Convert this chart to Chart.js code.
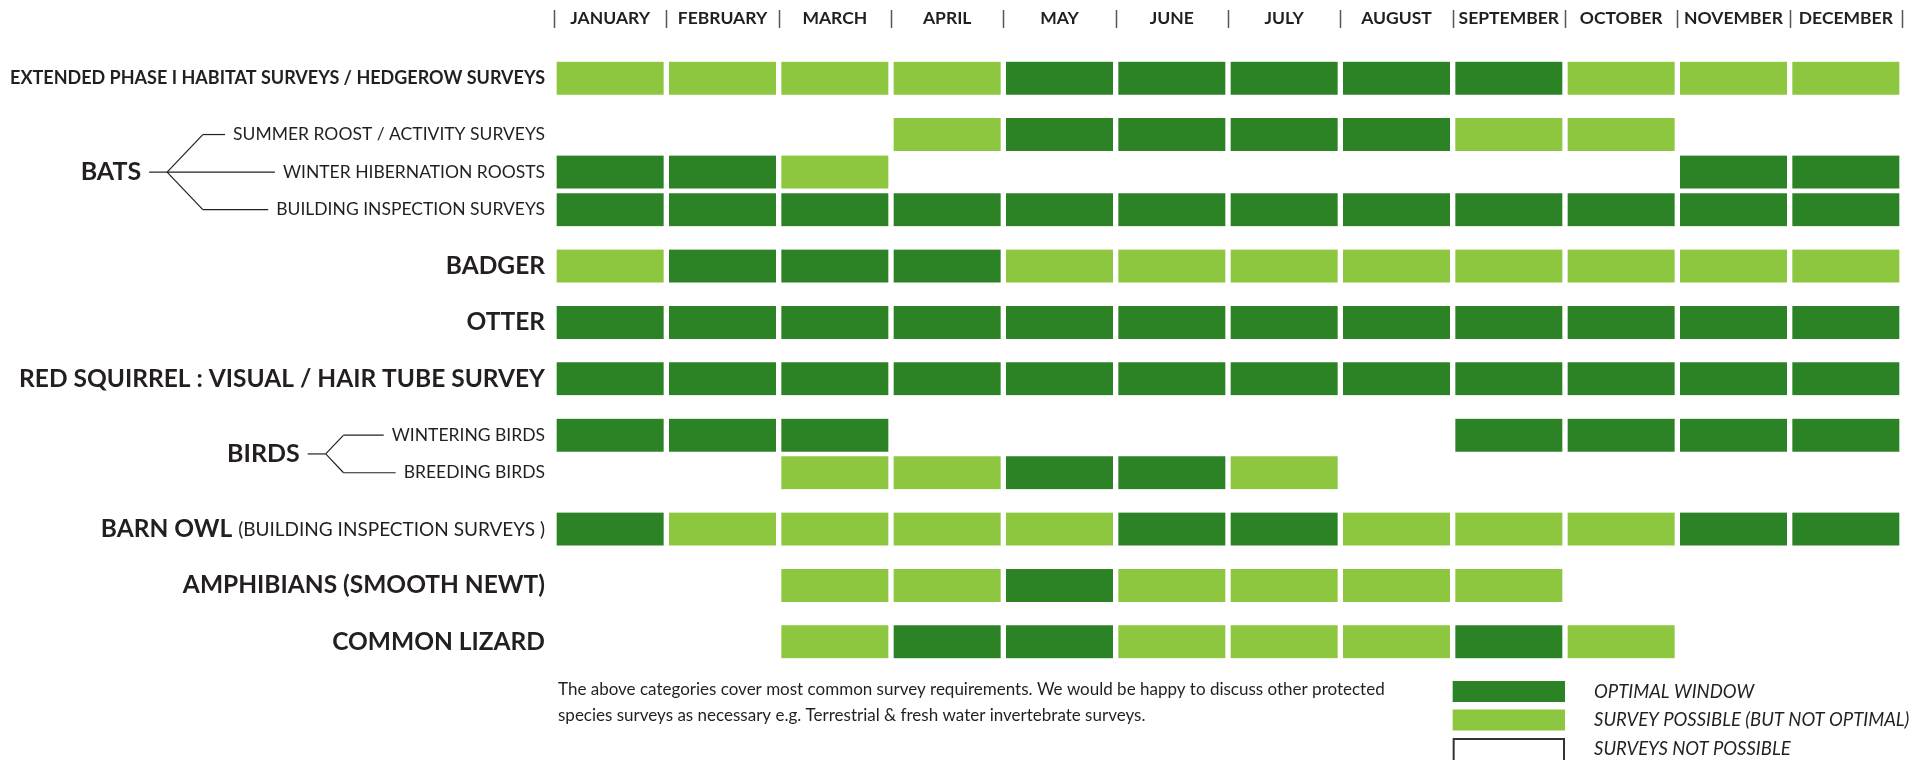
<!DOCTYPE html>
<html lang="en">
<head>
<meta charset="utf-8">
<title>Survey calendar</title>
<script src="https://cdn.jsdelivr.net/npm/chart.js"></script>
<style>
    html, body { margin: 0; padding: 0; background: #fff; }
    #contenedor { width: 1919px; height: 760px; }
</style>
</head>
<body>
<div id="contenedor"><canvas id="graficoCalendario" width="1919" height="760"></canvas></div>
<script>
// Meses (cabecera)
const meses = ['JANUARY', 'FEBRUARY', 'MARCH', 'APRIL', 'MAY', 'JUNE', 'JULY',
    'AUGUST', 'SEPTEMBER', 'OCTOBER', 'NOVEMBER', 'DECEMBER'];

// Estado por mes: 2 = ventana óptima, 1 = posible, 0 = no posible
const extendedPhase    = [1, 1, 1, 1, 2, 2, 2, 2, 2, 1, 1, 1];
const batsSummerRoost  = [0, 0, 0, 1, 2, 2, 2, 2, 1, 1, 0, 0];
const batsWinterRoosts = [2, 2, 1, 0, 0, 0, 0, 0, 0, 0, 2, 2];
const batsBuilding     = [2, 2, 2, 2, 2, 2, 2, 2, 2, 2, 2, 2];
const badger           = [1, 2, 2, 2, 1, 1, 1, 1, 1, 1, 1, 1];
const otter            = [2, 2, 2, 2, 2, 2, 2, 2, 2, 2, 2, 2];
const redSquirrel      = [2, 2, 2, 2, 2, 2, 2, 2, 2, 2, 2, 2];
const birdsWintering   = [2, 2, 2, 0, 0, 0, 0, 0, 2, 2, 2, 2];
const birdsBreeding    = [0, 0, 1, 1, 2, 2, 1, 0, 0, 0, 0, 0];
const barnOwl          = [2, 1, 1, 1, 1, 2, 2, 1, 1, 1, 2, 2];
const amphibians       = [0, 0, 1, 1, 2, 1, 1, 1, 1, 0, 0, 0];
const commonLizard     = [0, 0, 1, 2, 2, 1, 1, 1, 2, 1, 0, 0];

// Grupos y subfilas
const grupos = ['EXTENDED PHASE I HABITAT SURVEYS / HEDGEROW SURVEYS', 'BATS', 'BADGER', 'OTTER',
    'RED SQUIRREL : VISUAL / HAIR TUBE SURVEY', 'BIRDS', 'BARN OWL', 'AMPHIBIANS (SMOOTH NEWT)', 'COMMON LIZARD'];
const notasGrupo = ['', '', '', '', '', '', '(BUILDING INSPECTION SURVEYS )', '', ''];
const subfilasBats = ['SUMMER ROOST / ACTIVITY SURVEYS', 'WINTER HIBERNATION ROOSTS', 'BUILDING INSPECTION SURVEYS'];
const subfilasBirds = ['WINTERING BIRDS', 'BREEDING BIRDS'];

const leyendaTextos = ['OPTIMAL WINDOW', 'SURVEY POSSIBLE (BUT NOT OPTIMAL)', 'SURVEYS NOT POSSIBLE'];
const notaPie = [
    'The above categories cover most common survey requirements. We would be happy to discuss other protected',
    'species surveys as necessary e.g. Terrestrial & fresh water invertebrate surveys.'
];

const colorOptimo = '#2c8326';
const colorPosible = '#8dc63f';
const colorTexto = '#231f20';
const fuente = 'Lato, "Open Sans", sans-serif';

document.addEventListener("DOMContentLoaded", function () {
    // Filas del calendario (valores de cada grupo en orden)
    const valoresPorGrupo = [
        [extendedPhase],
        [batsSummerRoost, batsWinterRoosts, batsBuilding],
        [badger], [otter], [redSquirrel],
        [birdsWintering, birdsBreeding],
        [barnOwl], [amphibians], [commonLizard]
    ];
    const etiquetasSub = { 1: subfilasBats, 5: subfilasBirds };

    // posición de cada fila: 3 huecos entre grupos, 2 dentro del grupo
    const filas = [];
    let pos = -3;
    valoresPorGrupo.forEach(function (lista, g) {
        lista.forEach(function (valores, i) {
            pos += (i === 0 ? 3 : 2);
            filas.push({ grupo: g, sub: i, valores: valores, pos: pos });
        });
    });

    const estados = [
        { nivel: 2, label: leyendaTextos[0], color: colorOptimo },
        { nivel: 1, label: leyendaTextos[1], color: colorPosible }
    ];

    const datasets = estados.map(function (e) {
        const datos = [];
        filas.forEach(function (fila) {
            fila.valores.forEach(function (v, m) {
                if (v === e.nivel) datos.push({ x: [m, m + 1], y: fila.pos });
            });
        });
        return {
            label: e.label,
            data: datos,
            backgroundColor: e.color,
            borderColor: '#fff',
            borderWidth: { left: 3, right: 3, top: 0, bottom: 0 },
            borderSkipped: false,
            barThickness: 33,
            grouped: false
        };
    });

    function linea(ctx, x1, y1, x2, y2) {
        ctx.beginPath();
        ctx.moveTo(x1, y1);
        ctx.lineTo(x2, y2);
        ctx.stroke();
    }

    // Textos, llaves, cabecera y leyenda
    const pluginTextos = {
        id: 'textosCalendario',
        afterDraw: function (chart) {
            const ctx = chart.ctx;
            const xs = chart.scales.x;
            const ys = chart.scales.y;
            const area = chart.chartArea;
            const bordeDer = area.left - 9;
            ctx.save();
            ctx.fillStyle = colorTexto;
            ctx.strokeStyle = colorTexto;
            ctx.textBaseline = 'middle';

            // cabecera de meses
            ctx.font = 'bold 17.5px ' + fuente;
            ctx.textAlign = 'center';
            meses.forEach(function (mes, m) {
                ctx.fillText(mes, xs.getPixelForValue(m + 0.5), 18);
            });
            ctx.strokeStyle = '#555';
            ctx.lineWidth = 1.5;
            for (let m = 0; m <= 12; m++) {
                const x = Math.round(xs.getPixelForValue(m)) + 0.5;
                linea(ctx, x, 10, x, 28);
            }
            ctx.strokeStyle = colorTexto;

            // etiquetas de filas
            ctx.textAlign = 'right';
            grupos.forEach(function (nombre, g) {
                const filasGrupo = filas.filter(f => f.grupo === g);
                if (filasGrupo.length === 1) {
                    const y = ys.getPixelForValue(filasGrupo[0].pos);
                    let derecha = bordeDer;
                    if (notasGrupo[g]) {
                        ctx.font = '19px ' + fuente;
                        ctx.fillText(notasGrupo[g], derecha, y + 1);
                        derecha -= ctx.measureText(notasGrupo[g]).width + 6;
                    }
                    ctx.font = (g === 0 ? 'bold 18px ' : 'bold 24.5px ') + fuente;
                    ctx.fillText(nombre, derecha, y);
                    return;
                }
                // grupo con subfilas y llave
                ctx.font = '17.5px ' + fuente;
                const inicios = filasGrupo.map(function (f) {
                    const txt = etiquetasSub[g][f.sub];
                    const y = ys.getPixelForValue(f.pos);
                    ctx.fillText(txt, bordeDer, y);
                    return { x: bordeDer - ctx.measureText(txt).width, y: y };
                });
                const yMedio = inicios.reduce((a, b) => a + b.y, 0) / inicios.length;
                const xHorquilla = Math.min.apply(null, inicios.map(p => p.x)) - 66;
                ctx.lineWidth = 1.2;
                inicios.forEach(function (p) {
                    const dy = p.y - yMedio;
                    const xCodo = xHorquilla + Math.abs(dy) * 0.95;
                    linea(ctx, xHorquilla, yMedio, xCodo, p.y);
                    linea(ctx, xCodo, p.y, p.x - 8, p.y);
                });
                linea(ctx, xHorquilla - 18, yMedio, xHorquilla, yMedio);
                ctx.font = 'bold 25px ' + fuente;
                ctx.fillText(nombre, xHorquilla - 26, yMedio);
            });

            // nota al pie
            ctx.textAlign = 'left';
            ctx.font = '17px ' + fuente;
            notaPie.forEach(function (t, i) {
                ctx.fillText(t, area.left + 4, area.bottom + 20 + i * 26);
            });

            // leyenda
            const xCaja = xs.getPixelForValue(8);
            const anchoCaja = xs.getPixelForValue(9) - xCaja;
            const colores = [colorOptimo, colorPosible, null];
            ctx.font = 'italic 18.5px ' + fuente;
            leyendaTextos.forEach(function (t, i) {
                const top = area.bottom + 11 + i * 28.5;
                if (colores[i]) {
                    ctx.fillStyle = colores[i];
                    ctx.fillRect(xCaja, top, anchoCaja, 21);
                } else {
                    ctx.strokeStyle = '#333';
                    ctx.lineWidth = 2;
                    ctx.strokeRect(xCaja + 1, top + 1, anchoCaja - 2, 22);
                }
                ctx.fillStyle = colorTexto;
                ctx.fillText(t, xCaja + anchoCaja + 29, top + 11);
            });
            ctx.restore();
        }
    };

    const ctxCal = document.getElementById('graficoCalendario').getContext('2d');
    new Chart(ctxCal, {
        type: 'bar',
        data: { datasets: datasets },
        options: {
            indexAxis: 'y',
            responsive: false,
            animation: false,
            layout: { padding: { left: 554, right: 17, top: 50, bottom: 90 } },
            plugins: {
                legend: { display: false },
                tooltip: { enabled: false }
            },
            scales: {
                x: { type: 'linear', min: 0, max: 12, offset: false, display: false },
                y: { type: 'linear', min: -1.5, max: 31.5, reverse: true, offset: false, display: false }
            }
        },
        plugins: [pluginTextos]
    });
});
</script>
</body>
</html>
